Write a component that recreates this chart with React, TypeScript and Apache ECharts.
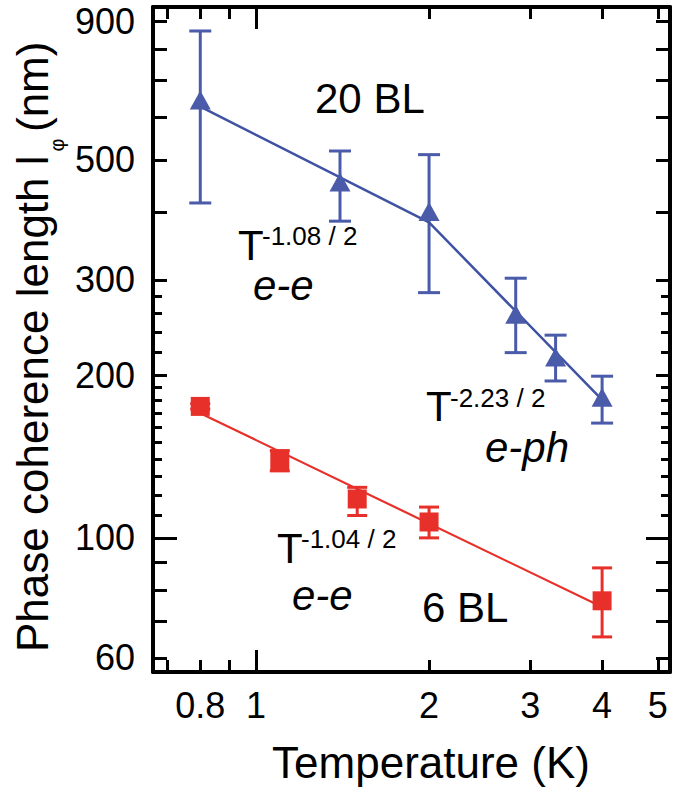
import React, { useEffect, useRef } from "react";
import * as echarts from "echarts";

const FONT = "'Liberation Sans', Arial, Helvetica, sans-serif";
const BLUE = "#4a5ba9";
const BLUE_LINE = "#3f52a3";
const RED = "#e8302a";

// 20 BL film: temperature (K), phase coherence length (nm) with error range
const tempBL20 = [0.8, 1.4, 2.0, 2.83, 3.32, 4.0];
const lphiBL20 = [645, 455, 401, 259, 216, 182];
const lphiBL20Low = [416, 385, 284, 220, 195, 163];
const lphiBL20High = [865, 519, 511, 302, 237, 199];

// 6 BL film
const tempBL6 = [0.8, 1.1, 1.5, 2.0, 4.0];
const lphiBL6 = [175, 139, 118, 107, 76.5];
const lphiBL6Low = [173, 133, 110, 100, 65.6];
const lphiBL6High = [177, 145, 124, 114, 88];

// power-law fit lines (e-e below 2 K, e-ph above for 20 BL)
const fitBL20T = [0.8, 2, 4];
const fitBL20L = [627, 383, 180];
const fitBL6T = [0.8, 4];
const fitBL6L = [170, 74.5];

// axis ticks and labels
const xLabels = [0.8, 1, 2, 3, 4, 5];
const xTicksLong = [1];
const xTicksShort = [0.7, 0.8, 0.9, 2, 3, 4, 5];
const yLabels = [60, 100, 200, 300, 500, 900];
const yTicksLong = [100];
const yTicksMid = [60, 70, 80, 90, 200, 300, 400, 500, 600, 700, 800, 900];
const yTicksShort = [110, 120, 130, 140, 150, 160, 170, 180, 190, 220, 240, 260, 280];

const X_MIN = 0.662;
const X_MAX = 5.25;
const Y_MIN = 56.5;
const Y_MAX = 958;

const fmt = (v: number) => String(+Number(v).toPrecision(3));

function makeAxis(
  kind: "x" | "y",
  position: string,
  ticks: number[],
  len: number,
  showLine: boolean,
  labels?: number[]
) {
  const isX = kind === "x";
  return {
    type: "log",
    logBase: 10,
    min: isX ? X_MIN : Y_MIN,
    max: isX ? X_MAX : Y_MAX,
    position,
    gridIndex: 0,
    axisLine: {
      show: showLine,
      onZero: false,
      lineStyle: { color: "#000", width: 4 },
    },
    axisTick: {
      show: true,
      inside: true,
      length: len,
      customValues: ticks,
      lineStyle: { color: "#000", width: 3 },
    },
    axisLabel: labels
      ? {
          show: true,
          customValues: labels,
          margin: isX ? 15 : 18,
          fontSize: 36,
          color: "#000",
          fontFamily: FONT,
          formatter: fmt,
        }
      : { show: false },
    splitLine: { show: false },
    minorTick: { show: false },
    minorSplitLine: { show: false },
  };
}

function errorBars(
  name: string,
  t: number[],
  lo: number[],
  hi: number[],
  color: string,
  capHalf: number
) {
  return {
    type: "custom",
    name,
    xAxisIndex: 0,
    yAxisIndex: 0,
    z: 2,
    data: t.map((x, i) => [x, lo[i], hi[i]]),
    encode: { x: 0, y: [1, 2] },
    renderItem: (_params: any, api: any) => {
      const x = api.value(0);
      const a = api.coord([x, api.value(1)]);
      const b = api.coord([x, api.value(2)]);
      const style = { stroke: color, lineWidth: 3, fill: "none" };
      return {
        type: "group",
        children: [
          { type: "line", shape: { x1: a[0], y1: a[1], x2: b[0], y2: b[1] }, style },
          { type: "line", shape: { x1: a[0] - capHalf, y1: a[1], x2: a[0] + capHalf, y2: a[1] }, style },
          { type: "line", shape: { x1: b[0] - capHalf, y1: b[1], x2: b[0] + capHalf, y2: b[1] }, style },
        ],
      };
    },
  };
}

function label(text: string, x: number, baseline: number, size: number, italic = false, align = "left") {
  return {
    type: "text",
    x,
    y: baseline - 0.3465 * size,
    z: 10,
    style: {
      text,
      fontSize: size,
      fontFamily: FONT,
      fontStyle: italic ? "italic" : "normal",
      fill: "#000",
      align,
      verticalAlign: "middle",
    },
  };
}

function vlabel(text: string, emCenterX: number, y: number, size: number, align = "left") {
  return {
    type: "text",
    x: emCenterX,
    y,
    rotation: Math.PI / 2,
    z: 10,
    style: {
      text,
      fontSize: size,
      fontFamily: FONT,
      fill: "#000",
      align,
      verticalAlign: "middle",
    },
  };
}

export default function App() {
  const ref = useRef<HTMLDivElement>(null);

  useEffect(() => {
    if (!ref.current) return;
    const chart = echarts.init(ref.current, undefined, { renderer: "svg" });

    const option = {
      animation: false,
      backgroundColor: "#fff",
      grid: { left: 153, right: 3, top: 7, bottom: 122, containLabel: false },
      xAxis: [
        makeAxis("x", "bottom", xTicksLong, 22, true, xLabels),
        makeAxis("x", "bottom", xTicksShort, 12, false),
        makeAxis("x", "top", xTicksLong, 22, true),
        makeAxis("x", "top", xTicksShort, 12, false),
      ],
      yAxis: [
        makeAxis("y", "left", yTicksLong, 24, true, yLabels),
        makeAxis("y", "left", yTicksMid, 14, false),
        makeAxis("y", "left", yTicksShort, 9, false),
        makeAxis("y", "right", yTicksLong, 24, true),
        makeAxis("y", "right", yTicksMid, 14, false),
        makeAxis("y", "right", yTicksShort, 9, false),
      ],
      series: [
        errorBars("20 BL error", tempBL20, lphiBL20Low, lphiBL20High, BLUE, 11),
        errorBars("6 BL error", tempBL6, lphiBL6Low, lphiBL6High, RED, 10),
        {
          type: "line",
          name: "20 BL fit",
          data: fitBL20T.map((t, i) => [t, fitBL20L[i]]),
          symbol: "none",
          lineStyle: { color: BLUE_LINE, width: 2.5 },
          z: 3,
        },
        {
          type: "line",
          name: "6 BL fit",
          data: fitBL6T.map((t, i) => [t, fitBL6L[i]]),
          symbol: "none",
          lineStyle: { color: RED, width: 2.2 },
          z: 3,
        },
        {
          type: "scatter",
          name: "20 BL",
          data: tempBL20.map((t, i) => [t, lphiBL20[i]]),
          symbol: "triangle",
          symbolSize: [21, 19],
          itemStyle: { color: BLUE, opacity: 1 },
          z: 4,
        },
        {
          type: "scatter",
          name: "6 BL",
          data: tempBL6.map((t, i) => [t, lphiBL6[i]]),
          symbol: "rect",
          symbolSize: 19,
          itemStyle: { color: RED, opacity: 1 },
          z: 4,
        },
      ],
      graphic: [
        // axis titles
        label("Temperature (K)", 431, 778, 44, false, "center"),
        vlabel("Phase coherence length l", 32, 652, 44),
        vlabel("φ", 57, 145, 20, "center"),
        vlabel("(nm)", 32, 132, 44),
        // annotations
        label("20 BL", 315, 113, 42),
        label("T", 238, 260, 42),
        label("-1.08 / 2", 262, 245, 26),
        label("e-e", 253, 300, 42, true),
        label("T", 426, 421, 42),
        label("-2.23 / 2", 450, 407, 26),
        label("e-ph", 485, 462, 42, true),
        label("T", 277, 563, 42),
        label("-1.04 / 2", 301, 548, 26),
        label("e-e", 292, 610, 42, true),
        label("6 BL", 422, 622, 42),
      ],
    };

    chart.setOption(option as any);
    return () => chart.dispose();
  }, []);

  return (
    <div
      ref={ref}
      style={{ position: "fixed", left: 0, top: 0, width: 673, height: 794, background: "#fff" }}
    />
  );
}
